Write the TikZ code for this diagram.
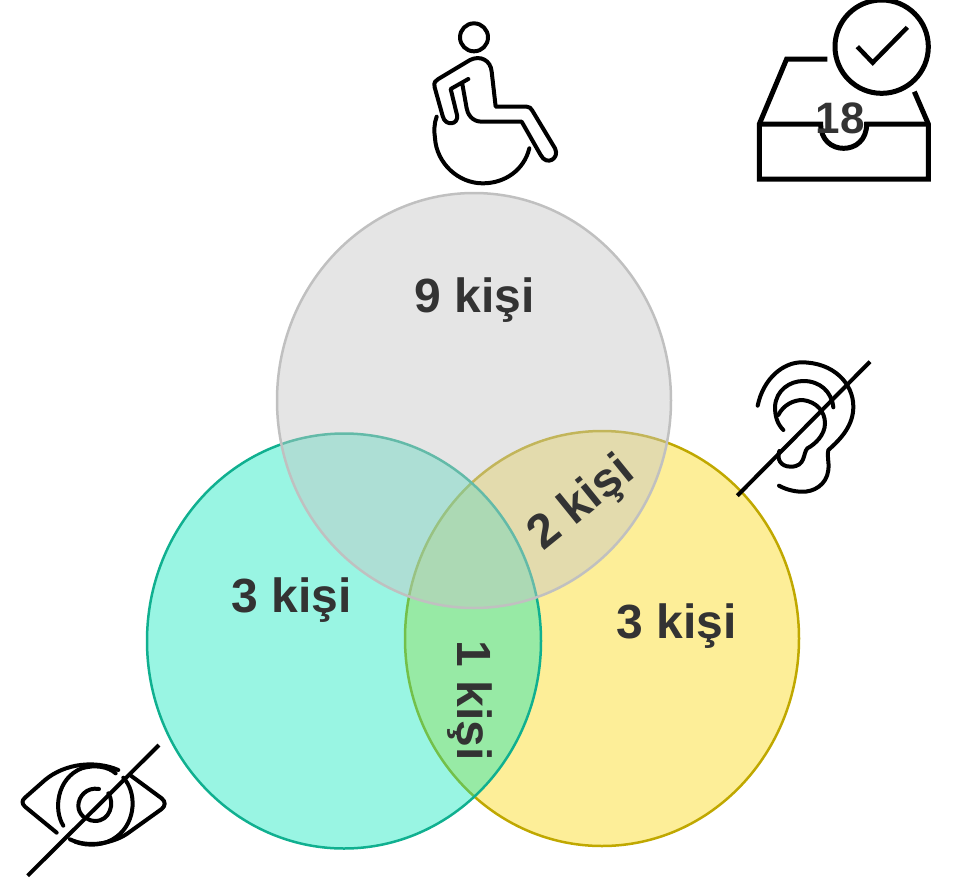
\documentclass[tikz,border=0pt]{standalone}
\usepackage{fontspec}
\setmainfont{Liberation Sans}
\definecolor{txt}{HTML}{333333}
\tikzset{
  venn/.style={ellipse,minimum width=394pt,minimum height=415pt,inner sep=0pt,line width=2.5pt},
  lbl/.style={font=\fontsize{48}{48}\selectfont\bfseries,text=txt,inner sep=0pt},
  icon/.style={line width=4pt,line cap=round,line join=round,draw=black}
}
\usetikzlibrary{shapes.geometric}
\begin{document}
\begin{tikzpicture}[x=1pt,y=-1pt]
\useasboundingbox (0,0) rectangle (961,881);
% circles
\node[venn,draw={rgb,255:red,192;green,168;blue,0},fill={rgb,255:red,253;green,238;blue,152}] (yellow) at (602,638.5) {};
\node[venn,draw={rgb,255:red,16;green,176;blue,144},fill={rgb,255:red,0;green,230;blue,185},fill opacity=.4] (green) at (344,641) {};
\node[venn,draw={rgb,255:red,192;green,192;blue,192},fill={rgb,255:red,198;green,198;blue,198},fill opacity=.46] (grey) at (474,400.5) {};
% labels
\node[lbl] (l9) at (475,300.5) {9 kişi};
\node[lbl] (l3a) at (292,600.5) {3 kişi};
\node[lbl] (l3b) at (677,626.5) {3 kişi};
\node[lbl,rotate=39] (l2) at (582,504) {2 kişi};
\node[lbl,rotate=-90] (l1) at (470,701) {1 kişi};
% wheelchair
\begin{scope}[shift={(420,10)},scale=1/3,icon]
\draw (162,82) circle (42);
\draw (145,207) -- (92,237) -- (111,315) .. controls (117,345) and (75,350) .. (68,318) -- (44,232)
  .. controls (40,215) and (48,212) .. (55,207) -- (150,150) .. controls (180,135) and (212,150) .. (215,185)
  -- (227,290) -- (320,290) .. controls (330,290) and (332,295) .. (337,302) -- (405,415)
  .. controls (420,445) and (380,470) .. (362,435) -- (305,335) -- (185,335) .. controls (155,335) and (142,310) .. (140,295) -- (127,222);
\draw (50,320) .. controls (42,340) and (42,365) .. (45,385) .. controls (50,460) and (115,520) .. (188,520) .. controls (255,520) and (312,480) .. (328,415);
\end{scope}
% inbox
\begin{scope}[shift={(750,0)},scale=1/3,line width=5pt,draw=black]
\draw[line cap=butt,miter limit=10] (232,177) -- (110,177) -- (28,372) -- (28,537) -- (535,537) -- (535,372) -- (493,275);
\draw (28,372) -- (212,372) .. controls (212,420) and (245,445) .. (281,445) .. controls (317,445) and (350,420) .. (350,372) -- (535,372);
\draw (395,140) circle (140);
\draw[line width=4.5pt] (322,140) -- (368,188) -- (472,82);
\end{scope}
\node[font=\fontsize{44}{44}\selectfont\bfseries,text=txt,inner sep=0pt] (n18) at (840,118) {18};
% ear
\begin{scope}[shift={(730,355)},scale=1/3,icon]
\draw (83,152) .. controls (100,70) and (160,22) .. (215,22) .. controls (310,22) and (370,85) .. (370,155)
  .. controls (370,210) and (335,250) .. (295,285) .. controls (290,300) and (298,320) .. (295,345) .. controls (290,390) and (250,412) .. (215,410) .. controls (190,410) and (165,402) .. (147,392);
\draw (160,225) .. controls (140,205) and (135,180) .. (135,155) .. controls (138,105) and (180,78) .. (220,78) .. controls (270,78) and (305,110) .. (310,157);
\draw (145,180) .. controls (160,150) and (190,135) .. (218,135) .. controls (260,140) and (285,170) .. (285,205) .. controls (285,240) and (255,268) .. (232,280) .. controls (218,295) and (228,335) .. (182,335) .. controls (150,335) and (140,310) .. (148,288);
\coordinate (earA) at (22,422);
\coordinate (earB) at (420,20);
\draw[line cap=butt] (earA) -- (earB);
\end{scope}
% eye
\begin{scope}[shift={(15,735)},scale=1/3,icon]
\draw (125,293) -- (30,215) .. controls (20,205) and (20,197) .. (30,188) -- (90,135) .. controls (150,85) and (240,75) .. (310,105);
\draw (345,120) -- (440,190) .. controls (452,200) and (452,212) .. (440,222) -- (345,290) .. controls (300,325) and (220,340) .. (165,313);
\draw (145,272) .. controls (115,225) and (125,130) .. (200,100) .. controls (240,88) and (280,95) .. (302,115);
\draw (325,128) .. controls (365,170) and (365,260) .. (305,305) .. controls (270,332) and (220,335) .. (180,320);
\draw (252,162) .. controls (215,155) and (190,185) .. (190,212) .. controls (190,225) and (195,235) .. (205,245);
\draw (280,175) .. controls (300,205) and (285,258) .. (240,258) .. controls (230,258) and (222,255) .. (215,250);
\coordinate (eyeA) at (38,422);
\coordinate (eyeB) at (432,30);
\draw[line cap=butt] (eyeA) -- (eyeB);
\end{scope}
\end{tikzpicture}
\end{document}
